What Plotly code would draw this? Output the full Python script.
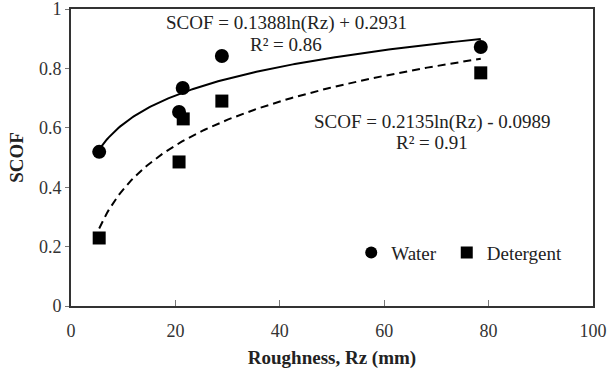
import numpy as np
import plotly.graph_objects as go

water_rz = [5.4, 20.7, 21.4, 28.9, 78.5]
water_scof = [0.519, 0.653, 0.734, 0.842, 0.872]
det_rz = [5.4, 20.7, 21.5, 28.9, 78.5]
det_scof = [0.229, 0.485, 0.630, 0.690, 0.785]

water_a, water_b = 0.1388, 0.2931
det_a, det_b = 0.2135, -0.0989

x_ticks = [0, 20, 40, 60, 80, 100]
y_ticks = [0, 0.2, 0.4, 0.6, 0.8, 1]
y_tick_text = ["0", "0.2", "0.4", "0.6", "0.8", "1"]

FONT = "Liberation Serif, Times New Roman, serif"
TXT = "#222"

xs = np.linspace(min(water_rz), max(water_rz), 200)
xd = np.linspace(min(det_rz), max(det_rz), 200)

fig = go.Figure()
fig.add_trace(go.Scatter(x=xs, y=water_a * np.log(xs) + water_b, mode="lines",
                         line=dict(color="black", width=2), showlegend=False, hoverinfo="skip"))
fig.add_trace(go.Scatter(x=xd, y=det_a * np.log(xd) + det_b, mode="lines",
                         line=dict(color="black", width=2, dash="8px,5px"), showlegend=False, hoverinfo="skip"))
fig.add_trace(go.Scatter(x=water_rz, y=water_scof, mode="markers", name="Water", legend="legend",
                         marker=dict(symbol="circle", size=14, color="black")))
fig.add_trace(go.Scatter(x=det_rz, y=det_scof, mode="markers", name="Detergent", legend="legend2",
                         marker=dict(symbol="square", size=13, color="black")))

ann_font = dict(family=FONT, size=19, color=TXT)
fig.add_annotation(x=0.412, y=0.953, xref="paper", yref="paper", text="SCOF = 0.1388ln(Rz) + 0.2931",
                   showarrow=False, xanchor="center", yanchor="middle", font=ann_font)
fig.add_annotation(x=0.412, y=0.879, xref="paper", yref="paper", text="R² = 0.86",
                   showarrow=False, xanchor="center", yanchor="middle", font=ann_font)
fig.add_annotation(x=0.692, y=0.62, xref="paper", yref="paper", text="SCOF = 0.2135ln(Rz) - 0.0989",
                   showarrow=False, xanchor="center", yanchor="middle", font=ann_font)
fig.add_annotation(x=0.692, y=0.552, xref="paper", yref="paper", text="R² = 0.91",
                   showarrow=False, xanchor="center", yanchor="middle", font=ann_font)

leg_common = dict(orientation="h", y=0.18, xanchor="left", yanchor="middle",
                  bgcolor="rgba(0,0,0,0)", font=dict(family=FONT, size=19, color=TXT),
                  itemwidth=30, tracegroupgap=0, itemsizing="constant", indentation=-10)

fig.update_layout(
    width=608, height=374,
    margin=dict(l=71, r=15, t=9, b=68, autoexpand=False),
    paper_bgcolor="white", plot_bgcolor="white",
    font=dict(family=FONT, size=18, color=TXT),
    legend=dict(x=0.556, **leg_common),
    legend2=dict(x=0.739, **leg_common),
    xaxis=dict(range=[0, 100], tickvals=x_ticks, ticks="inside", ticklen=6, tickcolor="#777",
               ticklabelstandoff=7, ticklabeloverflow="allow",
               showgrid=False, zeroline=False, showline=True, linecolor="#333", linewidth=2, mirror=True,
               automargin=False,
               title=dict(text="<b>Roughness, Rz (mm)</b>", font=dict(family=FONT, size=19, color=TXT), standoff=11),
               tickfont=dict(family=FONT, size=18, color="#333")),
    yaxis=dict(range=[0, 1], tickvals=y_ticks, ticktext=y_tick_text,
               ticks="outside", ticklen=4, tickcolor="#777", ticklabeloverflow="allow",
               showgrid=False, zeroline=False, showline=True, linecolor="#333", linewidth=2, mirror=True,
               automargin=False,
               title=dict(text="<b>SCOF</b>", font=dict(family=FONT, size=19, color=TXT), standoff=10),
               tickfont=dict(family=FONT, size=18, color="#333")),
)

fig.write_html("out.html", config={"displayModeBar": False},
               post_script="document.body.style.margin='0';document.documentElement.style.overflow='hidden';")
